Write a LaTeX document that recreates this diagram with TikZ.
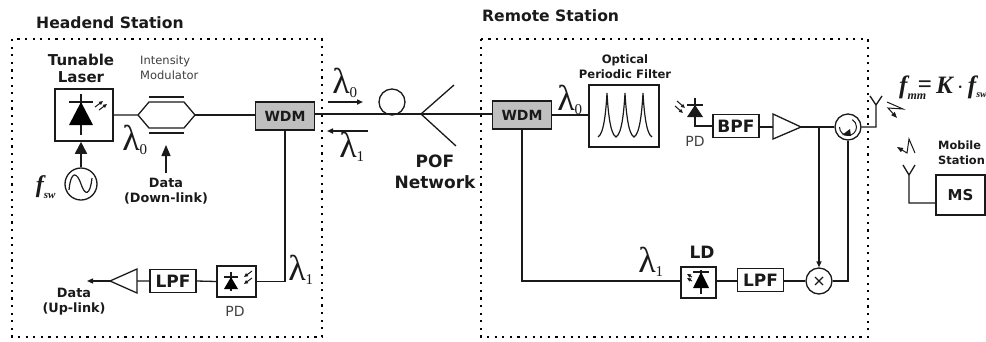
\documentclass[tikz,border=0pt]{standalone}
\usepackage{fontspec}
\setmainfont{DejaVu Sans}
\newfontfamily\lamfont{Liberation Serif}
\usetikzlibrary{arrows.meta}
\definecolor{ink}{HTML}{1A1A1A}
\tikzset{
  wire/.style={line width=1.3pt,draw=ink},
  dotbox/.style={line width=2pt,draw=black,dash pattern=on 2.2pt off 5.4pt},
  fbox/.style={draw=ink,line width=1.6pt,fill=white,font=\fontsize{14}{14}\selectfont\bfseries,inner sep=0pt,text=ink},
  wdm/.style={fbox,fill=black!25,minimum width=59pt,minimum height=28pt},
  filt/.style={fbox,font=\fontsize{17}{17}\selectfont\bfseries,minimum width=46pt,minimum height=23pt},
  lab/.style={font=\fontsize{12.8}{15.5}\selectfont\bfseries,align=center,text=ink,inner sep=0pt},
  lam/.style={font=\lamfont\fontsize{36}{36}\selectfont,inner sep=0pt,text=ink},
  plain/.style={font=\fontsize{14}{14}\selectfont,inner sep=0pt,text=black!75},
  head/.style={-{Triangle[length=6pt,width=5pt]},wire},
  small/.style={-{Triangle[length=4pt,width=3.5pt]},line width=1pt,draw=ink},
}
\newcommand{\lamlab}[1]{$\hbox{\lamfont λ}_{\hbox{\lamfont\fontsize{15}{15}\selectfont #1}}$}
\begin{document}
\begin{tikzpicture}[x=1pt,y=-1pt]
\useasboundingbox (0,0) rectangle (986,341);
\fill[white] (0,0) rectangle (986,341);
% station frames
\node[anchor=west,font=\fontsize{15.6}{16}\selectfont\bfseries,inner sep=0pt,text=ink] (hs) at (36,23) {Headend Station};
\node[anchor=west,font=\fontsize{15.6}{16}\selectfont\bfseries,inner sep=0pt,text=ink] (rs) at (482,16) {Remote Station};
\draw[dotbox] (12,39) rectangle (322,337);
\draw[dotbox] (481,39) rectangle (868,337);
% nodes headend
\node[fbox,minimum width=58pt,minimum height=52pt] (laser) at (84,115) {};
\node[lab,font=\fontsize{15}{17}\selectfont\bfseries] (tl) at (81,68) {Tunable\\Laser};
\node[lab,font=\fontsize{11.5}{15}\selectfont,text=black!75,align=left,anchor=west] (im) at (140,68) {Intensity\\Modulator};
\coordinate (ml) at (138,115);\coordinate (mr) at (195,115);
\node[wdm] (w1) at (285,116) {WDM};
\node[draw=ink,line width=1.3pt,circle,minimum size=32pt,inner sep=0pt] (src) at (81,184) {};
\node[lab] (dd) at (166,191) {Data\\(Down-link)};
\coordinate (dt) at (166,145); \coordinate (db) at (166,173);
\node[fbox,minimum width=39pt,minimum height=31pt] (pd1) at (236.5,281.5) {};
\node[filt] (lpf1) at (173,281) {LPF};
\coordinate (ampb1) at (137,281);\coordinate (ampt1) at (110,281);\coordinate (out1) at (87,281);
\node[lab] (du) at (74,301.5) {Data\\(Up-link)};
\node[plain] (pdl1) at (235,311) {PD};
\node[lam] at (135,140) {\lamlab{0}};
\node[lam] at (301,270) {\lamlab{1}};
\node[font=\lamfont\bfseries\itshape\fontsize{24}{24}\selectfont,inner sep=0pt,text=ink] (fsw) at (46,187) {$\hbox{f}_{\hbox{\lamfont\bfseries\itshape\fontsize{11}{11}\selectfont sw}}$};
% network
\coordinate (sp) at (421,114);\coordinate (sp1) at (454,85);\coordinate (sp2) at (456,146);
\node[draw=ink,line width=1.3pt,circle,minimum size=26pt,inner sep=0pt] (loop) at (392,102) {};
\node[lab,font=\fontsize{17}{20.5}\selectfont\bfseries] (pof) at (435,172) {POF\\Network};
\node[lam] at (345,83) {\lamlab{0}};
\node[lam] at (352,147) {\lamlab{1}};
\coordinate (a1l) at (328,102);\coordinate (a1r) at (363,102);
\coordinate (a2r) at (368,131);\coordinate (a2l) at (327,131);
% remote
\node[wdm] (w2) at (522,115) {WDM};
\node[lam] at (570,100) {\lamlab{0}};
\node[fbox,minimum width=70pt,minimum height=62pt] (of) at (624,116) {};
\node[lab,font=\fontsize{11.6}{15}\selectfont\bfseries] (ofl) at (625,66.5) {Optical\\Periodic Filter};
\node[filt] (bpf) at (736,126) {BPF};
\coordinate (ampb2) at (773,127);\coordinate (ampt2) at (801,127);
\node[draw=ink,line width=1.3pt,circle,minimum size=26pt,inner sep=0pt,fill=white] (circ) at (848,127) {};
\node[draw=ink,line width=1.3pt,circle,minimum size=26pt,inner sep=0pt,fill=white] (mix) at (819,281) {};
\node[filt] (lpf2) at (760.5,280) {LPF};
\node[fbox,minimum width=35pt,minimum height=31pt] (ld) at (698.5,282.5) {};
\node[lab,font=\fontsize{17}{17}\selectfont\bfseries] (ldl) at (702,252) {LD};
\node[lam] at (651,262) {\lamlab{1}};
\node[plain] (pdl2) at (695,141) {PD};
\coordinate (j1) at (819,127);
\coordinate (ant1) at (876,126);\coordinate (antj1) at (876,105);
\coordinate (ant2) at (909,203);\coordinate (antj2) at (909,175);
\node[fbox,line width=2.2pt,font=\fontsize{15}{15}\selectfont\bfseries,minimum width=49pt,minimum height=40pt] (ms) at (960.5,195) {MS};
\node[lab,font=\fontsize{11.4}{15}\selectfont\bfseries,anchor=west,align=left] (mob) at (938,153) {Mobile\\Station};
\node[font=\lamfont\bfseries\itshape\fontsize{25}{25}\selectfont,anchor=west,inner sep=0pt,text=ink] (fmm) at (899,88) {$\hbox{f}_{\hbox{\lamfont\bfseries\itshape\fontsize{12}{12}\selectfont mm}}$\hspace{-9pt}\raisebox{1pt}{=}\,K$\,\mathbf{\cdot}\,$f$_{\hbox{\lamfont\bfseries\itshape\fontsize{10}{10}\selectfont sw}}$};
% connectors
\draw[wire] (laser.east) -- (ml) -- (149,102) -- (184,102) -- (mr) -- (184,128) -- (149,128) -- (ml);
\draw[wire] (149,97) -- (184,97) (149,133) -- (184,133);
\draw[wire] (mr) -- (mr -| w1.west);
\draw[wire] (w1.east |- 114,114) -- (w2.west |- 114,114);
\draw[wire] (sp1) -- (sp) -- (sp2);
\draw[wire] (w1.south) |- (pd1.east);
\draw[wire] (pd1.west) -- (lpf1.east) (lpf1.west) -- (ampb1);
\draw[wire,fill=white] (137,269) -- (ampt1) -- (137,293) -- cycle;
\draw[head] (ampt1) -- (out1);
\draw[head,-{Triangle[length=12pt,width=12pt]},line width=1.8pt] (src.north) -- (src.north |- laser.south);
\draw[head,-{Triangle[length=11pt,width=9pt]}] (db) -- (dt);
\draw[head,line width=1.8pt] (a1l) -- (a1r);
\draw[head,line width=1.8pt] (a2r) -- (a2l);
\draw[wire] (w2.east) -- (w2.east -| of.west);
\draw[wire] (w2.south) |- (ld.west |- mix.west);
\draw[wire] (ld.east |- mix.west) -- (lpf2.west |- mix.west) (lpf2.east |- mix.west) -- (mix.west) (mix.east) -| (circ.south);
\draw[wire] (bpf.east |- ampb2) -- (ampb2);
\draw[wire,fill=white] (773,114) -- (ampt2) -- (773,139) -- cycle;
\draw[wire] (ampt2) -- (circ.west);
\draw[head] (j1) -- (mix.north);
\draw[wire] (circ.east) -| (antj1) (870,96) -- (antj1) -- (882,96);
\draw[wire] (ms.west |- ant2) -- (ant2) -- (antj2) (903,165) -- (antj2) -- (915,165);
% diode PD remote wire
\draw[wire] (bpf.west) -| (695,98);
\fill[ink] (695,105) -- (687,117) -- (703,117) -- cycle;
\draw[wire] (687,105) -- (703,105);
% laser diode
\draw[wire,line width=1.6pt] (81,94) -- (81,135) (69,102) -- (93,102);
\fill[black] (81,102) -- (69,125) -- (93,125) -- cycle;
\draw[small] (95,107) -- (103,101);
\draw[small] (99,110) -- (107,104);
% PD headend
\draw[wire] (231,272) -- (231,291) (224,277) -- (238,277);
\fill[black] (231,277) -- (224,289) -- (238,289) -- cycle;
\draw[small] (252,271) -- (244,277);
\draw[small] (252,278) -- (244,284);
% PD arrows remote
\draw[small] (677,101) -- (685,108);
\draw[small] (675,106) -- (683,113);
% LD
\draw[wire] (701,270) -- (701,294) (693,272) -- (709,272);
\fill[black] (701,272) -- (693,288) -- (709,288) -- cycle;
\draw[small] (692,277) -- (687,274);
\draw[small] (692,281) -- (687,278);
% sine
\draw[wire,line width=1.2pt] (69,190) .. controls (71,170) and (77,172) .. (81,184) .. controls (85,196) and (90,196) .. (92,178);
% filter peaks
\draw[wire,line width=1.2pt] (598,137) .. controls (604,134) and (606,110) .. (607,93) .. controls (608,110) and (610,134) .. (616,137)
 .. controls (622,134) and (624,110) .. (625,93) .. controls (626,110) and (628,134) .. (634,137)
 .. controls (640,134) and (642,110) .. (643,93) .. controls (644,110) and (646,134) .. (652,137);
% circulator arrow
\draw[line width=1pt,ink] (839.5,127) arc (180:-60:8.5);
\fill[ink] (842,135) -- (850,129) -- (851,136) -- cycle;
% mixer x
\draw[line width=1.2pt,ink] (815,277) -- (823,285) (823,277) -- (815,285);
% zigzags
\draw[-{Triangle[length=6pt,width=4.5pt]},wire,line width=1pt] (887,102) -- (903,109) -- (888,108) -- (897,118);
\draw[-{Triangle[length=6pt,width=4.5pt]},wire,line width=1pt] (915,153) -- (909,139) -- (907,153) -- (897,147);
\end{tikzpicture}
\end{document}
